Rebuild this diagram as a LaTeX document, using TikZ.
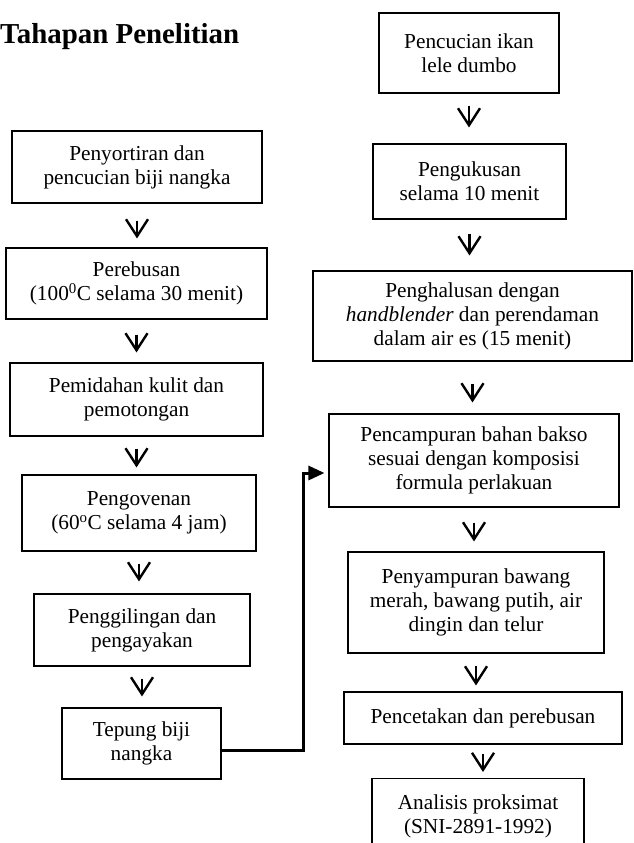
\documentclass[tikz,border=0pt]{standalone}
\usepackage{fontspec}
\setmainfont{Liberation Serif}
\usetikzlibrary{arrows.meta}
\tikzset{
  stp/.style={draw,line width=1.1pt,align=center,inner sep=2pt,font=\fontsize{21.3}{24}\selectfont},
  dn/.style={line width=2.2pt,-{Straight Barb[length=17pt,width=22pt,line width=2.4pt]}},
  lnk/.style={line width=3pt,-{Triangle[length=16pt,width=14pt]},shorten >=4pt}
}

\begin{document}
\begin{tikzpicture}[x=1pt,y=-1pt]
\clip (0,0) rectangle (634,843);
\node[anchor=base west,inner sep=0pt,font=\fontsize{28.9}{32}\selectfont\bfseries] (judul) at (0,44) {Tahapan Penelitian};
% kolom kiri
\node[stp,minimum width=250pt,minimum height=72pt] (sort) at (137,167) {Penyortiran dan\\pencucian biji nangka};
\node[stp,minimum width=261pt,minimum height=71pt] (rebus) at (136.5,283.5) {Perebusan\\(100\textsuperscript{0}C selama 30 menit)};
\node[stp,minimum width=253pt,minimum height=73pt] (kupas) at (136.5,399.5) {Pemidahan kulit dan\\pemotongan};
\node[stp,minimum width=234pt,minimum height=76pt] (oven) at (139,513) {Pengovenan\\(60\textsuperscript{o}C selama 4 jam)};
\node[stp,minimum width=216pt,minimum height=72pt] (giling) at (142,630) {Penggilingan dan\\pengayakan};
\node[stp,minimum width=159pt,minimum height=71pt] (tepung) at (141.5,743.5) {Tepung biji\\nangka};
% kolom kanan
\node[stp,minimum width=180pt,minimum height=80pt] (cuci) at (469,53) {Pencucian ikan\\lele dumbo};
\node[stp,minimum width=193pt,minimum height=75pt] (kukus) at (469.5,181.5) {Pengukusan\\selama 10 menit};
\node[stp,minimum width=319pt,minimum height=90pt] (halus) at (472.5,316) {Penghalusan dengan\\\textit{handblender} dan perendaman\\dalam air es (15 menit)};
\node[stp,minimum width=290pt,minimum height=93pt] (campur) at (474,460.5) {Pencampuran bahan bakso\\sesuai dengan komposisi\\formula perlakuan};
\node[stp,minimum width=256pt,minimum height=101pt] (bumbu) at (476,602.5) {Penyampuran bawang\\merah, bawang putih, air\\dingin dan telur};
\node[stp,minimum width=278pt,minimum height=52pt] (cetak) at (483,718) {Pencetakan dan perebusan};
\node[stp,minimum width=212pt,minimum height=75pt,anchor=north] (analisis) at (478,778) {Analisis proksimat\\(SNI-2891-1992)};
% panah
\draw[dn,shorten <=17pt,shorten >=9pt] (sort) -- (sort |- rebus.north);
\draw[dn,shorten <=15pt,shorten >=10pt] (rebus) -- (rebus |- kupas.north);
\draw[dn,shorten <=12pt,shorten >=7pt] (kupas) -- (kupas |- oven.north);
\draw[dn,shorten <=12pt,shorten >=12pt] (oven) -- (oven |- giling.north);
\draw[dn,shorten <=12pt,shorten >=11pt] (giling) -- (giling |- tepung.north);
\draw[dn,shorten <=12pt,shorten >=16pt] (cuci) -- (cuci |- kukus.north);
\draw[dn,shorten <=14pt,shorten >=15pt] (kukus) -- (kukus |- halus.north);
\draw[dn,shorten <=22pt,shorten >=11pt] (halus) -- (halus |- campur.north);
\draw[dn,shorten <=15pt,shorten >=10pt] (campur) -- (campur |- bumbu.north);
\draw[dn,shorten <=12pt,shorten >=6pt] (bumbu) -- (bumbu |- cetak.north);
\draw[dn,shorten <=9pt,shorten >=6pt] (cetak) -- (cetak |- analisis.north);
\coordinate (belok) at (303,473);
\draw[lnk] ([yshift=-6.5pt]tepung.east) -| (belok) -- (belok -| campur.west);
\end{tikzpicture}
\end{document}
